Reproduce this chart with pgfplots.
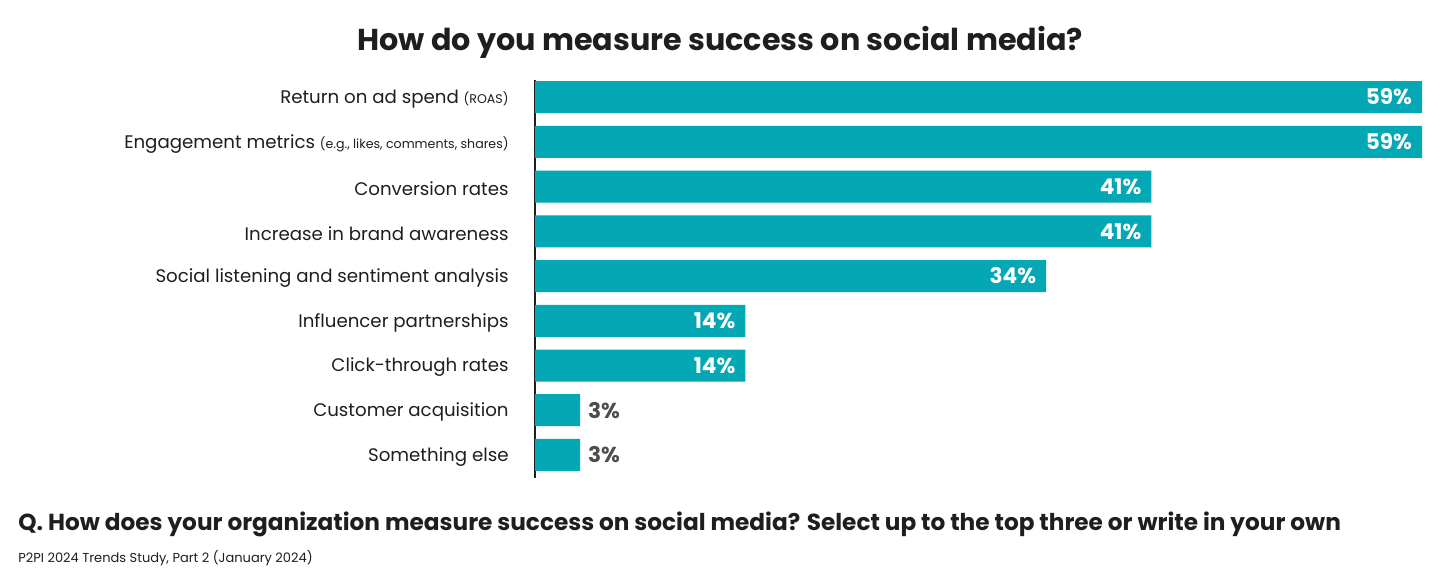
\documentclass[border=0pt]{standalone}
\usepackage{pgfplots}
\pgfplotsset{compat=1.18}
\usepackage{fontspec}
\setmainfont{Poppins}
\definecolor{barteal}{RGB}{3,168,180}
\definecolor{txt}{RGB}{30,30,30}
\definecolor{lbl}{RGB}{77,77,77}
\begin{document}
\begin{tikzpicture}
\path[use as bounding box] (0,0) rectangle (720pt,290pt);
\node[font=\bfseries\fontsize{15.1}{18}\selectfont, text=txt] at (360pt,269pt) {How do you measure success on social media?};
\begin{axis}[
  at={(267.5pt,250pt)}, anchor=north west,
  scale only axis, width=443.5pt, height=198.9pt,
  xmin=0, xmax=59, ymin=-0.38, ymax=8.51, y dir=reverse,
  axis x line=none, axis y line*=left,
  y axis line style={draw=txt, line width=0.6pt, -},
  ytick={0,...,8}, major tick length=0pt,
  yticklabels={Return on ad spend {\fontsize{6.3}{8}\selectfont(ROAS)},
    Engagement metrics {\fontsize{6.3}{8}\selectfont(e.g., likes, comments, shares)},
    Conversion rates, Increase in brand awareness, Social listening and sentiment analysis,
    Influencer partnerships, Click-through rates, Customer acquisition, Something else},
  yticklabel style={font=\fontsize{9.1}{11}\selectfont, text=txt, anchor=east, inner sep=0pt, xshift=-13pt, yshift=-1pt},
  xbar, bar width=16pt, bar shift=0pt,
  point meta=x, clip=false,
  /pgf/number format/assume math mode=true,
]
\addplot[fill=barteal, draw=none,
  nodes near coords={\pgfmathprintnumber{\pgfplotspointmeta}\%},
  nodes near coords style={anchor=east, xshift=-1.5pt, text=white, font=\bfseries\fontsize{10.8}{12}\selectfont}]
  coordinates {(59,0) (59,1) (41,2) (41,3) (34,4) (14,5) (14,6)};
\addplot[fill=barteal, draw=none,
  nodes near coords={\pgfmathprintnumber{\pgfplotspointmeta}\%},
  nodes near coords style={anchor=west, xshift=0.5pt, text=lbl, font=\bfseries\fontsize{10.8}{12}\selectfont}]
  coordinates {(3,7) (3,8)};
\end{axis}
\node[anchor=base west, font=\bfseries\fontsize{11.6}{14}\selectfont, text=txt, inner sep=0pt] at (9pt,25pt) {Q. How does your organization measure success on social media? Select up to the top three or write in your own};
\node[anchor=base west, font=\fontsize{6.5}{8}\selectfont, text=txt, inner sep=0pt] at (9pt,9pt) {P2PI 2024 Trends Study, Part 2 (January 2024)};
\end{tikzpicture}
\end{document}
